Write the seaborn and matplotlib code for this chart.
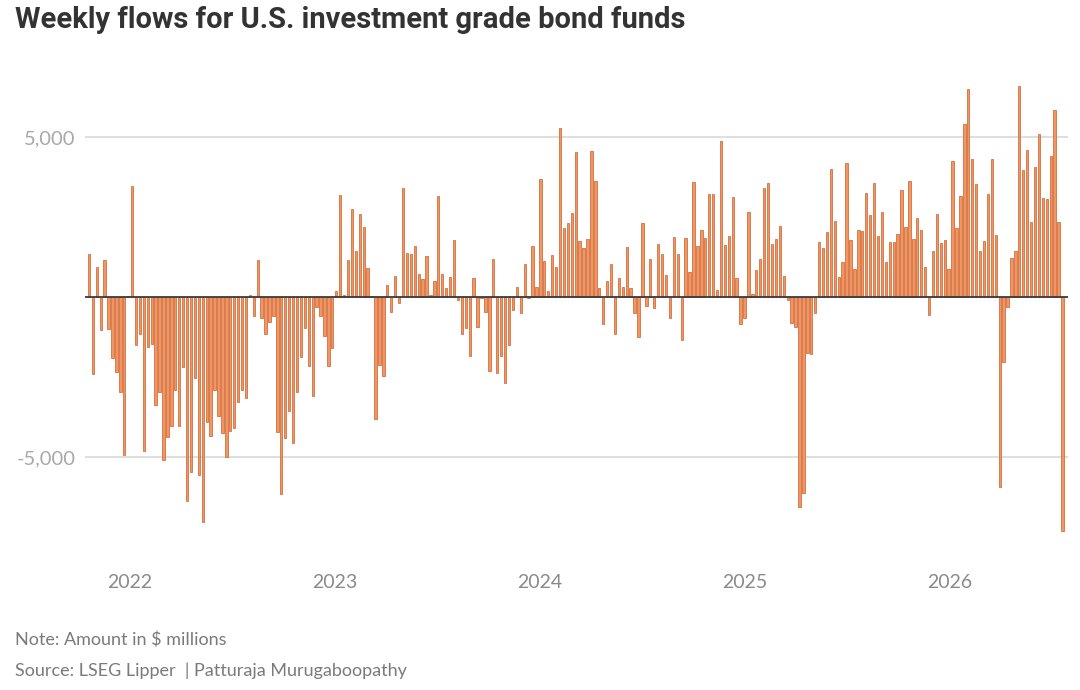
import pandas as pd
import seaborn as sns
import numpy as np
import matplotlib.pyplot as plt

# weekly flows, $ millions
flows = [
    1360, -2400, 950, -1030, 1160, -1010, -1920, -2330, -2960, -4940,
    20, 3470, -1500, -1160, -4800, -1550, -1480, -3380, -2960, -5090,
    -4390, -4030, -2890, -4030, -2180, -6360, -5460, -2520, -5560, -7020,
    -3900, -4340, -2890, -3710, -4260, -5010, -4190, -4100, -3270, -2910,
    -3170, 60, -590, 1160, -640, -1160, -790, -580, -4210, -6170,
    -4400, -3560, -4570, -2980, -1860, -980, -2160, -3090, -300, -590,
    -1220, -2160, -1580, 200, 3190, 60, 1160, 2740, 1440, 2580,
    2200, 900, 30, -3810, -2130, -2470, 380, -480, 660, -200,
    3400, 1390, 1360, 1600, 720, 550, 1280, 60, 510, 3170,
    720, 270, 640, 1770, -90, -1170, -980, -1840, 600, -930,
    -20, -480, -2310, 1180, -2360, -1840, -2680, -1500, -400, 300,
    -510, 1030, -20, 1590, 300, 3680, 1140, 200, 1310, 950,
    5270, 2170, 2300, 2640, 4540, 1750, 1540, 1810, 4560, 3640,
    290, -850, 490, 1020, -1160, 610, 300, 1550, 270, -510,
    -1240, 2320, -280, 1190, -350, 1650, 1360, 690, -670, 1890,
    1340, -1340, 1840, 780, 3600, 1590, 2090, 1840, 3210, 3210,
    220, 4890, 1630, 1920, 3140, 600, -850, -670, 2650, 80,
    840, 1190, 3400, 3570, 1660, 1810, 2220, 670, -90, -800,
    -930, -6550, -6110, -1760, -1790, -510, 1730, 1540, 2020, 3990,
    2380, 640, 1100, 4200, 1780, 880, 2110, 2060, 3260, 2560,
    3570, 1920, 2670, 1100, 1730, 1730, 1970, 3360, 2200, 3640,
    1800, 2480, 2090, 950, -560, 1440, 2610, 1700, 1780, 880,
    4250, 2150, 3170, 5410, 6500, 4330, 3530, 1440, 1760, 3210,
    4330, 1940, -5930, -2020, -300, 1210, 1440, 6590, 3970, 4590,
    2350, 4070, 5090, 3110, 3060, 4400, 5860, 2350, -7300,
]
start_week = "2021-10-20"
year_labels = ["2022", "2023", "2024", "2025", "2026"]
y_ticks = [-5000, 5000]

weeks = pd.date_range(start_week, periods=len(flows), freq="7D")
df = pd.DataFrame({"week": weeks, "flow": flows})
df["pos"] = np.arange(len(df))

sns.set_style("white")
plt.rcParams["font.family"] = ["Lato", "DejaVu Sans"]

fig = plt.figure(figsize=(10.8, 6.9), dpi=100)
ax = fig.add_axes([85 / 1080, 1 - 545 / 690, (1068 - 85) / 1080, 470 / 690])

sns.barplot(data=df, x="pos", y="flow", native_scale=True, width=0.6,
            color="#f29560", edgecolor="#c9602c", linewidth=0.5,
            saturation=1, ax=ax)

ax.set_xlim(-1.0, len(flows) + 0.4)
ax.set_ylim(-7750, 6940)

for v in y_ticks:
    ax.axhline(v, color="#d6d6d6", lw=1.1, zorder=0)
ax.axhline(0, color="#3a3a3a", lw=1.3, zorder=3)

# year ticks at 1 Jan of each year, in week units
t0 = pd.Timestamp(start_week)
tick_pos = [(pd.Timestamp(f"{y}-01-01") - t0).days / 7 for y in year_labels]
ax.set_xticks(tick_pos)
ax.set_xticklabels(year_labels, fontsize=14, color="#8a8a8a")
ax.set_yticks(y_ticks)
ax.set_yticklabels(["-5,000", "5,000"], fontsize=14.5, color="#a8a8a8")
ax.tick_params(axis="both", length=0)
ax.tick_params(axis="x", pad=21)
ax.tick_params(axis="y", pad=7)
ax.set_xlabel("")
ax.set_ylabel("")
sns.despine(ax=ax, left=True, bottom=True)

fig.text(15 / 1080, 1 - 20 / 690, "Weekly flows for U.S. investment grade bond funds",
         fontsize=21, fontweight="bold", color="#333333", va="center",
         family=["Roboto", "DejaVu Sans"])
fig.text(15 / 1080, 1 - 640 / 690, "Note: Amount in $ millions",
         fontsize=13, color="#7a7a7a", va="center")
fig.text(15 / 1080, 1 - 671 / 690, "Source: LSEG Lipper  | Patturaja Murugaboopathy",
         fontsize=13, color="#7a7a7a", va="center")

fig.savefig("out.png", dpi=100)
